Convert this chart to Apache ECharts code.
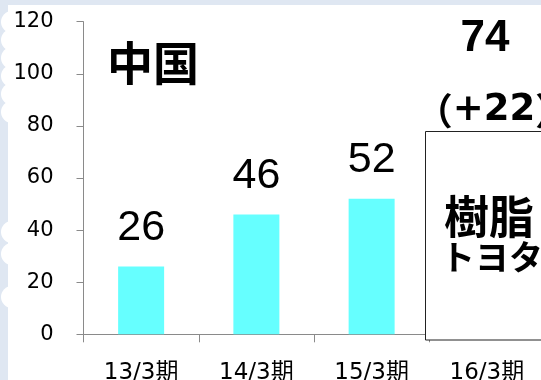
<!DOCTYPE html>
<html>
<head>
<meta charset="utf-8">
<script src="https://cdn.jsdelivr.net/npm/echarts@6/dist/echarts.min.js"></script>
<style>
html,body{margin:0;padding:0;background:#fff;}
#chart{width:541px;height:380px;}
</style>
</head>
<body>
<div id="chart"></div>
<script>
// ---- data ----
const categories = ['13/3期', '14/3期', '15/3期', '16/3期'];
const values = [26, 46, 52, 74];
const yMin = 0;
const yMax = 120;
const yStep = 20;
const titleText = '中国';
const boxLines = ['樹脂', 'トヨタ'];

// ---- build ----
const last = values.length - 1;
const diff = values[last] - values[last - 1];

const seriesData = values.map(function (v, i) {
  if (i === last) {
    return {
      value: v,
      label: {
        show: true,
        position: 'top',
        distance: 1,
        formatter: '{a|' + v + '}\n{p1|（}{c|+' + diff + '}{p|）}',
        rich: {
          a: { fontFamily: 'Liberation Sans', fontWeight: 'bold', fontSize: 44, lineHeight: 84, color: '#000', padding: [0, 4, 0, 0] },
          p1: { fontFamily: 'Noto Sans CJK JP', fontWeight: 'bold', fontSize: 37, lineHeight: 60, color: '#000', padding: [0, 0, 0, 14] },
          p: { fontFamily: 'Noto Sans CJK JP', fontWeight: 'bold', fontSize: 37, lineHeight: 60, color: '#000' },
          c: { fontFamily: 'DejaVu Sans', fontWeight: 'bold', fontSize: 37, lineHeight: 60, color: '#000' }
        }
      }
    };
  }
  return v;
});

const bg = '#dfe7f2';
const graphics = [
  { type: 'rect', z: -1, silent: true, shape: { x: 0, y: 0, width: 541, height: 5 }, style: { fill: bg } },
  { type: 'rect', z: -1, silent: true, shape: { x: 0, y: 0, width: 8, height: 380 }, style: { fill: bg } }
];
[22, 40, 58, 76, 94, 112, 232, 254, 297].forEach(function (cy) {
  graphics.push({ type: 'circle', z: -1, silent: true, shape: { cx: 12, cy: cy, r: 11 }, style: { fill: '#fff' } });
});
graphics.push({
  type: 'rect', z: 100, silent: true,
  shape: { x: 425.5, y: 131.5, width: 140, height: 208.5 },
  style: { fill: '#fff', stroke: '#222', lineWidth: 1 }
});
graphics.push({
  type: 'text', z: 101, x: 444, y: 217,
  style: { text: boxLines[0], fontFamily: 'Noto Sans CJK JP', fontWeight: 'bold', fontSize: 45, fill: '#000', align: 'left', verticalAlign: 'middle' }
});
graphics.push({
  type: 'text', z: 101, x: 441, y: 257,
  style: { text: boxLines[1], fontFamily: 'Noto Sans CJK JP', fontWeight: 'bold', fontSize: 34, fill: '#000', align: 'left', verticalAlign: 'middle' }
});

const chart = echarts.init(document.getElementById('chart'), null, { renderer: 'canvas' });
chart.setOption({
  animation: false,
  backgroundColor: '#fff',
  title: {
    text: titleText,
    left: 107,
    top: 40,
    padding: 0,
    textStyle: { fontFamily: 'Noto Sans CJK JP', fontWeight: 'bold', fontSize: 46, color: '#000' }
  },
  grid: { left: 83.5, top: 21.7, width: 461, height: 312.6, containLabel: false, outerBoundsMode: 'none' },
  xAxis: {
    type: 'category',
    data: categories,
    axisLine: { show: true, lineStyle: { color: '#8a8a8a', width: 1 } },
    axisTick: { show: true, length: 8, alignWithLabel: false, lineStyle: { color: '#8a8a8a' } },
    axisLabel: { margin: 27, color: '#000', fontSize: 23, fontFamily: 'DejaVu Sans, Noto Sans CJK JP' },
    splitLine: { show: false }
  },
  yAxis: {
    type: 'value',
    min: yMin,
    max: yMax,
    interval: yStep,
    axisLine: { show: true, lineStyle: { color: '#8a8a8a', width: 1 } },
    axisTick: { show: true, length: 7, lineStyle: { color: '#8a8a8a' } },
    axisLabel: { margin: 30, color: '#000', fontSize: 21, fontFamily: 'DejaVu Sans' },
    splitLine: { show: false }
  },
  series: [{
    type: 'bar',
    data: seriesData,
    barWidth: 46,
    itemStyle: { color: '#66ffff' },
    label: {
      show: true,
      position: 'top',
      distance: 17,
      color: '#000',
      fontSize: 43,
      fontFamily: 'Liberation Sans'
    }
  }],
  graphic: graphics
});
</script>
</body>
</html>
